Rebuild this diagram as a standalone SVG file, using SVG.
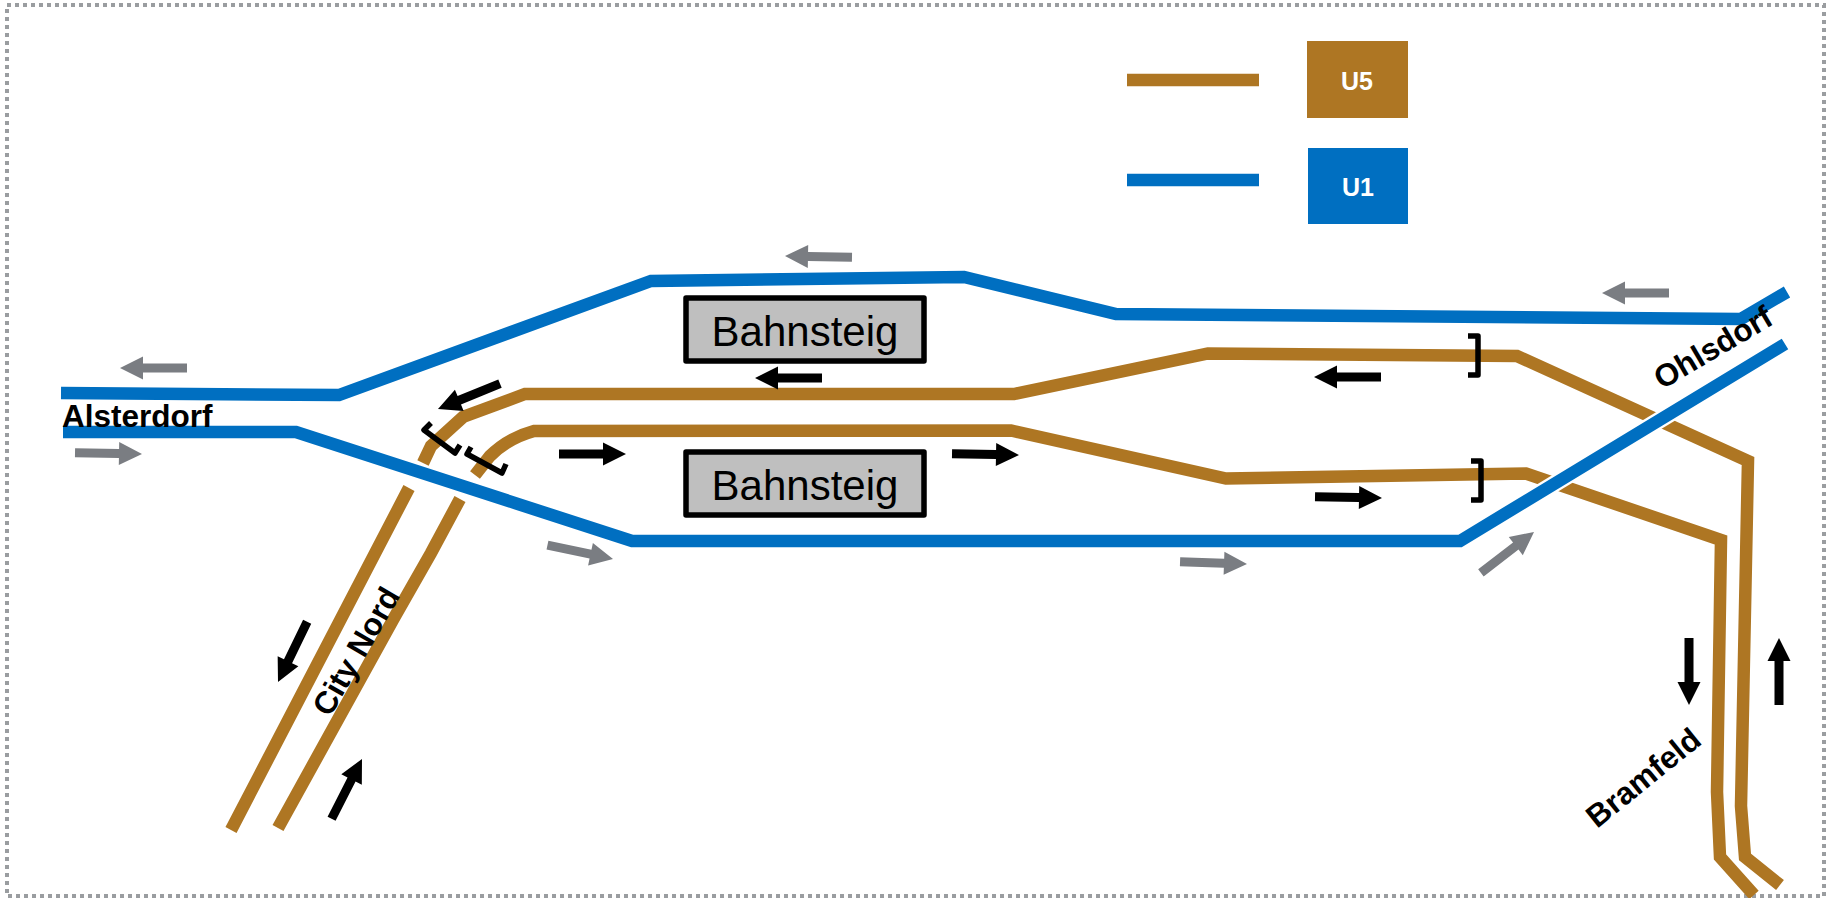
<svg xmlns="http://www.w3.org/2000/svg" width="1827" height="898" viewBox="0 0 1827 898">
<style>
.track{fill:none;stroke-width:12.5;stroke-linejoin:miter}
.u5{stroke:#ae7623}
.u1{stroke:#006fc1}
.casing{fill:none;stroke:#fff;stroke-width:17}
.bracket{fill:none;stroke:#000;stroke-width:5.5;stroke-linejoin:round}
.grey{fill:#7a7d82}
.black{fill:#000}
.platform{fill:#bfbfbf;stroke:#000;stroke-width:5.5;stroke-linejoin:round}
.ptext{font:42px "Liberation Sans",Arial,sans-serif;fill:#000;text-anchor:middle}
.label{font:bold 31.5px "Liberation Sans",Arial,sans-serif;fill:#000}
.ltext{font:bold 25px "Liberation Sans",Arial,sans-serif;fill:#fff;text-anchor:middle}
</style>
<defs>
<polygon id="arrow" points="0,0 -23,-11.5 -23,-4.5 -67,-4.5 -67,4.5 -23,4.5 -23,11.5"/>
</defs>
<rect id="frame" x="7" y="5" width="1817" height="891" fill="#fff" stroke="#9a9da0" stroke-width="4" stroke-dasharray="4 4"/>
<g id="connectors">
<path id="u5-upper" class="track u5" d="M231,830L409,488M423,463L431,446L463,417L525,394L1014,394L1208,353.5L1517,356L1748,461L1741,806L1745,857L1780,885"/>
<path id="u5-lower" class="track u5" d="M278,828L394,618L431,553L460,499M475,475L490,456Q508,438 534,431L1011,430.5L1226,478.5L1526,473.5L1721,540L1717,792L1720,857L1754,895"/>
<path id="u1-upper" class="track u1" d="M61,393L339,395L651,281L964,277L1116,314L1741,319L1787,292"/>
<line class="casing" x1="1460" y1="541" x2="1785" y2="344"/>
<path id="u1-lower" class="track u1" d="M63,432L296,432L632,541L1460,541L1785,344"/>
</g>
<g id="brackets">
<path class="bracket" d="M431,423L424,430L455,453L460,445"/>
<path class="bracket" d="M471,447L467,454L502,473L506,464"/>
<path class="bracket" d="M1468,336L1478,336L1478,375L1468,375"/>
<path class="bracket" d="M1471,461L1481,461L1481,500L1471,500"/>
</g>
<g id="direction-arrows">
<use href="#arrow" class="grey" transform="translate(120,368) rotate(180)"/>
<use href="#arrow" class="grey" transform="translate(142,454) rotate(1)"/>
<use href="#arrow" class="grey" transform="translate(785,256) rotate(181)"/>
<use href="#arrow" class="grey" transform="translate(1602,293) rotate(180)"/>
<use href="#arrow" class="grey" transform="translate(613,559) rotate(12)"/>
<use href="#arrow" class="grey" transform="translate(1247,564) rotate(2)"/>
<use href="#arrow" class="grey" transform="translate(1534,532) rotate(-37.6)"/>
<use href="#arrow" class="black" transform="translate(438,409) rotate(157.7)"/>
<use href="#arrow" class="black" transform="translate(755,378) rotate(180)"/>
<use href="#arrow" class="black" transform="translate(626,454)"/>
<use href="#arrow" class="black" transform="translate(1019,455) rotate(1)"/>
<use href="#arrow" class="black" transform="translate(1314,377) rotate(180)"/>
<use href="#arrow" class="black" transform="translate(1382,498) rotate(1)"/>
<use href="#arrow" class="black" transform="translate(278,682) rotate(115.8)"/>
<use href="#arrow" class="black" transform="translate(362,759) rotate(-63)"/>
<use href="#arrow" class="black" transform="translate(1689,705) rotate(90)"/>
<use href="#arrow" class="black" transform="translate(1779,638) rotate(-90)"/>
</g>
<g id="platform-top"><rect class="platform" x="686" y="298" width="238" height="63"/><text class="ptext" x="805" y="346">Bahnsteig</text></g>
<g id="platform-bottom"><rect class="platform" x="686" y="452" width="238" height="63"/><text class="ptext" x="805" y="500">Bahnsteig</text></g>
<g id="label-alsterdorf"><text class="label" x="62" y="427">Alsterdorf</text></g>
<g id="label-citynord"><text class="label" transform="translate(330,718) rotate(-60)">City Nord</text></g>
<g id="label-ohlsdorf"><text class="label" transform="translate(1662,390) rotate(-30.5)">Ohlsdorf</text></g>
<g id="label-bramfeld"><text class="label" transform="translate(1597,829) rotate(-39)">Bramfeld</text></g>
<g id="legend-u5"><line class="track u5" x1="1127" y1="80" x2="1259" y2="80"/><rect x="1307" y="41" width="101" height="77" fill="#ae7623"/><text class="ltext" x="1357" y="90">U5</text></g>
<g id="legend-u1"><line class="track u1" x1="1127" y1="180" x2="1259" y2="180"/><rect x="1308" y="148" width="100" height="76" fill="#006fc1"/><text class="ltext" x="1358" y="196">U1</text></g>
</svg>
